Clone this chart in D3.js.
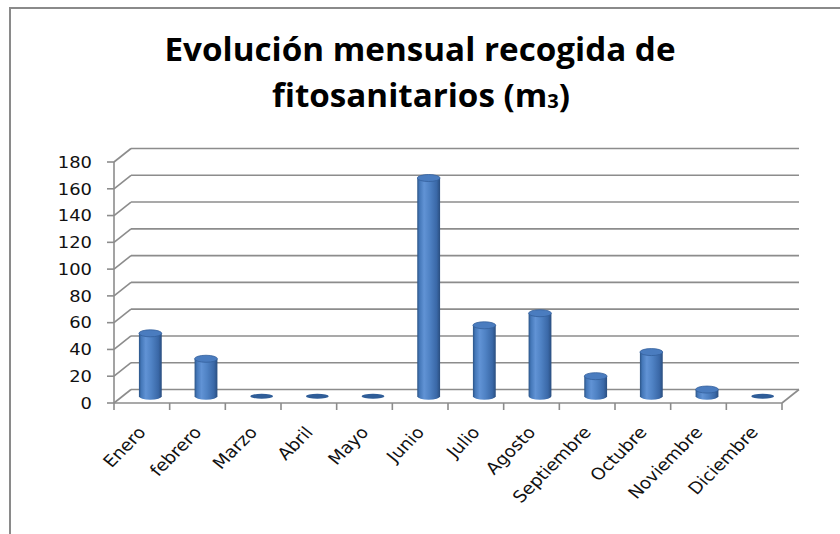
<!DOCTYPE html>
<html>
<head>
<meta charset="utf-8">
<script src="https://cdn.jsdelivr.net/npm/d3@7"></script>
<style>
  body { margin: 0; background: #fff; }
  svg { display: block; }
</style>
</head>
<body>
<script>
// Data
var months = ["Enero", "febrero", "Marzo", "Abril", "Mayo", "Junio", "Julio",
  "Agosto", "Septiembre", "Octubre", "Noviembre", "Diciembre"];
var values = [47, 28, 0, 0, 0, 163, 53, 62, 15, 33, 5, 0];
var yTicks = [0, 20, 40, 60, 80, 100, 120, 140, 160, 180];

var width = 840, height = 534;
var depthX = 17, depthY = -13.5;   // 3d offset of the back wall
var stretch = 1.12;                // text in the picture is a bit wide

var svg = d3.select("body").append("svg")
  .attr("width", width)
  .attr("height", height);

svg.append("rect").attr("width", width).attr("height", height).attr("fill", "#fff");

// chart frame (only top and left edges show)
svg.append("path")
  .attr("d", "M10,534 L10,8 L840,8")
  .attr("fill", "none")
  .attr("stroke", "#8a8a8a")
  .attr("stroke-width", 2);

// title
var title = svg.append("g")
  .style("font-family", "'Open Sans', sans-serif")
  .style("font-weight", "bold")
  .style("font-size", "33px")
  .attr("fill", "#000")
  .attr("text-anchor", "middle");
title.append("text")
  .attr("x", 420).attr("y", 61)
  .attr("textLength", 511).attr("lengthAdjust", "spacingAndGlyphs")
  .text("Evolución mensual recogida de");
var t2 = title.append("text")
  .attr("x", 421).attr("y", 107)
  .attr("textLength", 298).attr("lengthAdjust", "spacingAndGlyphs");
t2.append("tspan").text("fitosanitarios (m");
t2.append("tspan").style("font-size", "20px").attr("dy", 1).text("3");
t2.append("tspan").attr("dy", -1).text(")");

// scales
var x = d3.scaleBand().domain(months).range([114, 782]);
var y = d3.scaleLinear().domain([0, 180]).range([403, 162]);

var grid = svg.append("g")
  .attr("stroke", "#8c8c8c")
  .attr("stroke-width", 1.6)
  .attr("fill", "none");

// back wall gridlines + left wall diagonals
yTicks.forEach(function (t) {
  grid.append("line")
    .attr("x1", x.range()[0] + depthX).attr("x2", x.range()[1] + depthX)
    .attr("y1", y(t) + depthY).attr("y2", y(t) + depthY);
  grid.append("line")
    .attr("x1", x.range()[0]).attr("x2", x.range()[0] + depthX)
    .attr("y1", y(t)).attr("y2", y(t) + depthY);
  grid.append("line") // tick
    .attr("x1", x.range()[0] - 7).attr("x2", x.range()[0])
    .attr("y1", y(t)).attr("y2", y(t));
});

// front value axis line
grid.append("line")
  .attr("x1", x.range()[0]).attr("x2", x.range()[0])
  .attr("y1", y(0)).attr("y2", y(180));

// floor front edge and right edge
grid.append("line")
  .attr("x1", x.range()[0]).attr("x2", x.range()[1])
  .attr("y1", y(0)).attr("y2", y(0));
grid.append("line")
  .attr("x1", x.range()[1]).attr("x2", x.range()[1] + depthX)
  .attr("y1", y(0)).attr("y2", y(0) + depthY);

// category ticks on band edges
months.concat(["end"]).forEach(function (m, i) {
  var xx = i < months.length ? x(m) : x.range()[1];
  grid.append("line")
    .attr("x1", xx).attr("x2", xx)
    .attr("y1", y(0)).attr("y2", y(0) + 7);
});

// y labels
svg.append("g")
  .style("font-family", "'DejaVu Sans', sans-serif")
  .style("font-size", "16px")
  .attr("fill", "#111")
  .attr("text-anchor", "end")
  .selectAll("text")
  .data(yTicks)
  .enter().append("text")
  .attr("transform", function (d) {
    return "translate(92," + y(d) + ") scale(" + stretch + ",1)";
  })
  .attr("dy", "0.36em")
  .text(function (d) { return d; });

// x labels, rotated so they still read at 45deg after the stretch
var angle = Math.atan(stretch) * 180 / Math.PI;
svg.append("g")
  .style("font-family", "'DejaVu Sans', sans-serif")
  .style("font-size", "16.5px")
  .attr("fill", "#111")
  .attr("text-anchor", "end")
  .selectAll("text")
  .data(months)
  .enter().append("text")
  .attr("transform", function (d) {
    var cx = x(d) + x.bandwidth() / 2 + 5;
    return "translate(" + cx + ",433) scale(" + stretch + ",1) rotate(" + (-angle) + ")";
  })
  .text(function (d) { return d; });

// cylinder gradient
var defs = svg.append("defs");
var grad = defs.append("linearGradient").attr("id", "cyl")
  .attr("x1", "0%").attr("x2", "100%").attr("y1", "0%").attr("y2", "0%");
[["0%", "#2b5486"], ["10%", "#4477b8"], ["30%", "#6193d5"], ["55%", "#4f82c4"],
 ["85%", "#3a68a7"], ["100%", "#2a4e7f"]].forEach(function (s) {
  grad.append("stop").attr("offset", s[0]).attr("stop-color", s[1]);
});

// bars as cylinders, placed mid-depth
var barW = x.bandwidth() * 0.41;
var rx = barW / 2, ry = 3.5;
var bars = svg.append("g");
months.forEach(function (m, i) {
  var v = values[i];
  var cx = x(m) + x.bandwidth() / 2 + depthX / 2;
  var base = y(0) + depthY / 2;
  var top = y(v) + depthY / 2;
  if (v === 0) {
    bars.append("ellipse")
      .attr("cx", cx).attr("cy", base)
      .attr("rx", rx).attr("ry", 2.5)
      .attr("fill", "#2f5d98");
    return;
  }
  bars.append("path")
    .attr("d", "M" + (cx - rx) + "," + top +
      " L" + (cx - rx) + "," + base +
      " A" + rx + "," + ry + " 0 0 0 " + (cx + rx) + "," + base +
      " L" + (cx + rx) + "," + top + " Z")
    .attr("fill", "url(#cyl)");
  bars.append("ellipse")
    .attr("cx", cx).attr("cy", top)
    .attr("rx", rx).attr("ry", ry)
    .attr("fill", "#4a7cbf")
    .attr("stroke", "#335f9c")
    .attr("stroke-width", 0.8);
});
</script>
</body>
</html>
